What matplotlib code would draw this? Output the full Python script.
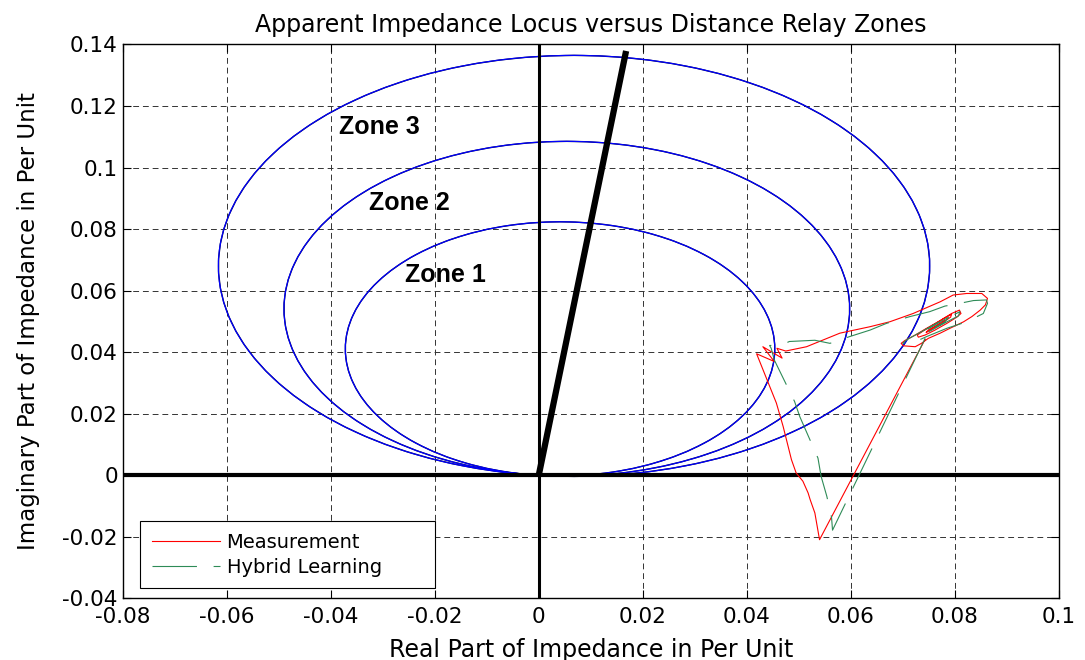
import numpy as np
import matplotlib
matplotlib.use("Agg")
import matplotlib.pyplot as plt
from matplotlib.patches import Circle, RegularPolygon

# Mho relay zones: reach (circle diameter) along the characteristic angle
zone_names = ["Zone 1", "Zone 2", "Zone 3"]
zone_reach = [0.0826, 0.1088, 0.1368]
mho_angle_deg = 84.3
zone_label_x = [-0.0179, -0.0249, -0.0306]
zone_label_y = [0.0650, 0.0884, 0.1132]

# Protected line impedance
line_r = [0.0, 0.0168]
line_x = [0.0, 0.1379]

# Apparent impedance seen by the relay (measured)
meas_r = [0.0743, 0.0540, 0.0531, 0.0522, 0.0518, 0.0508, 0.0495, 0.0486,
          0.0470, 0.0457, 0.0419, 0.0453, 0.0431, 0.0468, 0.0458, 0.0475,
          0.0515, 0.0579, 0.0637, 0.0675, 0.0720, 0.0772, 0.0797, 0.0823,
          0.0852, 0.0863, 0.0859, 0.0849, 0.0833, 0.0817, 0.0791, 0.0772,
          0.0749, 0.0736, 0.0724, 0.0701, 0.0697, 0.0704, 0.0724, 0.0746,
          0.0772, 0.0794, 0.0809, 0.0812, 0.0804, 0.0785, 0.0762, 0.0743,
          0.0730, 0.0728, 0.0740, 0.0759, 0.0781, 0.0794, 0.0792, 0.0775,
          0.0756, 0.0745, 0.0749, 0.0769, 0.0781]
meas_x = [0.0442, -0.0209, -0.0122, -0.0079, -0.0057, -0.0019, 0.0008, 0.0051,
          0.0159, 0.0235, 0.0395, 0.0370, 0.0418, 0.0381, 0.0413, 0.0404,
          0.0418, 0.0462, 0.0483, 0.0499, 0.0526, 0.0564, 0.0586, 0.0591,
          0.0591, 0.0575, 0.0554, 0.0537, 0.0516, 0.0499, 0.0478, 0.0462,
          0.0445, 0.0429, 0.0418, 0.0421, 0.0429, 0.0438, 0.0456, 0.0478,
          0.0503, 0.0526, 0.0537, 0.0526, 0.0514, 0.0494, 0.0472, 0.0456,
          0.0449, 0.0456, 0.0470, 0.0489, 0.0512, 0.0523, 0.0514, 0.0494,
          0.0475, 0.0464, 0.0472, 0.0492, 0.0505]

# Hybrid learning estimate
hyb_r = [0.0743, 0.0565, 0.0563, 0.0554, 0.0543, 0.0537, 0.0502, 0.0492,
         0.0453, 0.0447, 0.0444, 0.0468, 0.0482, 0.0531, 0.0560, 0.0598,
         0.0637, 0.0669, 0.0714, 0.0752, 0.0781, 0.0804, 0.0836, 0.0861,
         0.0863, 0.0855, 0.0823, 0.0785, 0.0746, 0.0720, 0.0700, 0.0707,
         0.0733, 0.0765, 0.0797, 0.0810, 0.0807, 0.0785, 0.0756, 0.0736,
         0.0740, 0.0762, 0.0788, 0.0781, 0.0762]
hyb_x = [0.0445, -0.0178, -0.0135, -0.0068, -0.0003, 0.0056, 0.0191, 0.0240,
         0.0375, 0.0413, 0.0422, 0.0424, 0.0435, 0.0439, 0.0429, 0.0451,
         0.0472, 0.0494, 0.0516, 0.0532, 0.0550, 0.0557, 0.0568, 0.0570,
         0.0559, 0.0526, 0.0499, 0.0478, 0.0451, 0.0431, 0.0429, 0.0440,
         0.0464, 0.0494, 0.0521, 0.0532, 0.0518, 0.0499, 0.0472, 0.0456,
         0.0467, 0.0489, 0.0514, 0.0499, 0.0480]

x_ticks = [-0.08, -0.06, -0.04, -0.02, 0.0, 0.02, 0.04, 0.06, 0.08, 0.1]
x_tick_labels = ["-0.08", "-0.06", "-0.04", "-0.02", "0", "0.02", "0.04",
                 "0.06", "0.08", "0.1"]
y_ticks = [-0.04, -0.02, 0.0, 0.02, 0.04, 0.06, 0.08, 0.1, 0.12, 0.14]
y_tick_labels = ["-0.04", "-0.02", "0", "0.02", "0.04", "0.06", "0.08",
                 "0.1", "0.12", "0.14"]

plt.rcParams["font.family"] = ["DejaVu Sans"]

fig = plt.figure(figsize=(10.85, 6.6), dpi=100)
ax = fig.add_axes([0.1131, 0.0932, 0.8627, 0.8394])

# zone circles (dark outline under the blue one)
theta = np.deg2rad(mho_angle_deg)
for reach in zone_reach:
    centre = (reach / 2 * np.cos(theta), reach / 2 * np.sin(theta))
    ax.add_patch(RegularPolygon(centre, 90, radius=reach / 2, fill=False,
                                ec="#000040", lw=1.0, zorder=2))
    ax.add_patch(Circle(centre, reach / 2, fill=False, ec="#0000ff",
                        lw=0.85, zorder=2.1))

for name, lx, ly in zip(zone_names, zone_label_x, zone_label_y):
    ax.text(lx, ly, name, ha="center", va="center", fontsize=18,
            fontweight="bold", family="Liberation Sans", zorder=5)

ax.axhline(0, color="k", lw=3.0, zorder=3)
ax.axvline(0, color="k", lw=2.2, zorder=3)
ax.plot(line_r, line_x, color="k", lw=4.5, solid_capstyle="butt", zorder=3)

ax.plot(meas_r, meas_x, color="#ff0000", lw=0.8, zorder=4,
        label="Measurement")
ax.plot(hyb_r, hyb_x, color="#2e8b57", lw=0.8, linestyle=(0, (40, 15)),
        zorder=4, label="Hybrid Learning")

ax.set_xlim(-0.08, 0.1)
ax.set_ylim(-0.04, 0.14)
ax.set_xticks(x_ticks)
ax.set_xticklabels(x_tick_labels)
ax.set_yticks(y_ticks)
ax.set_yticklabels(y_tick_labels)
ax.tick_params(direction="in", length=6, width=0.8, top=True, right=True,
               labelsize=15.5)
ax.tick_params(axis="x", pad=6)
ax.tick_params(axis="y", pad=3.5)
ax.grid(True, color="#333333", linestyle=(0, (6, 4)), lw=0.7)
for sp in ax.spines.values():
    sp.set_linewidth(1.0)

ax.set_title("Apparent Impedance Locus versus Distance Relay Zones",
             fontsize=17, pad=9)
ax.set_xlabel("Real Part of Impedance in Per Unit", fontsize=17, labelpad=8)
ax.set_ylabel("Imaginary Part of Impedance in Per Unit", fontsize=16.5,
              labelpad=16)

leg = ax.legend(loc="lower left", bbox_to_anchor=(0.0185, 0.0184, 0.3152, 0.1),
                mode="expand", borderaxespad=0, fontsize=14, fancybox=False,
                edgecolor="k", framealpha=1, handlelength=3.5,
                handletextpad=0.35, borderpad=0.6, labelspacing=0.3)
leg.get_frame().set_linewidth(0.8)

fig.savefig("out.png", dpi=100)
